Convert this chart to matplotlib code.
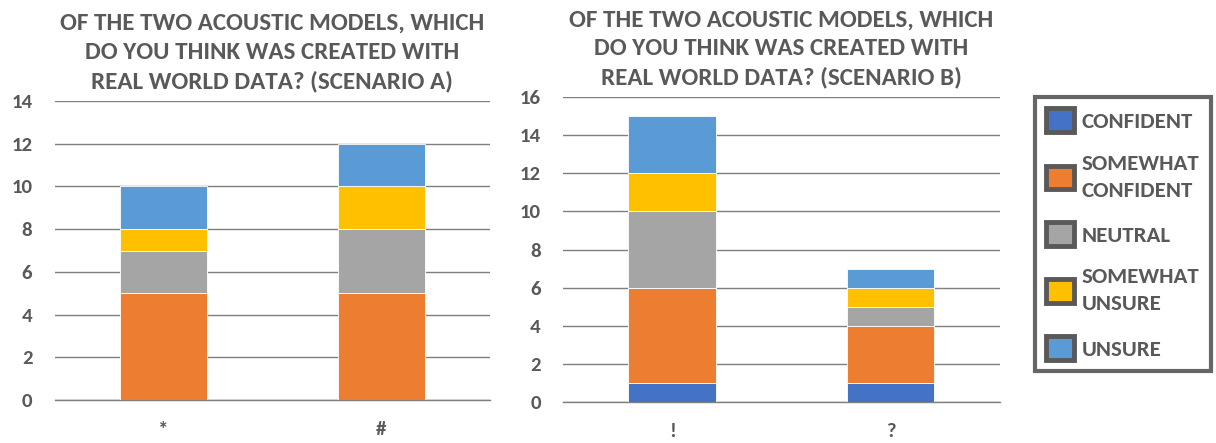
import numpy as np
import matplotlib.pyplot as plt
from matplotlib.patches import Patch

plt.rcParams['font.family'] = ['Carlito', 'DejaVu Sans']
plt.rcParams['font.weight'] = 'bold'

# response levels, bottom to top of each stack
levels = ['CONFIDENT', 'SOMEWHAT\nCONFIDENT', 'NEUTRAL', 'SOMEWHAT\nUNSURE', 'UNSURE']
colors = ['#4472C4', '#ED7D31', '#A5A5A5', '#FFC000', '#5B9BD5']

# scenario A
cats_a = ['*', '#']
counts_a = [
    [0, 0],  # confident
    [5, 5],  # somewhat confident
    [2, 3],  # neutral
    [1, 2],  # somewhat unsure
    [2, 2],  # unsure
]

# scenario B
cats_b = ['!', '?']
counts_b = [
    [1, 1],
    [5, 3],
    [4, 1],
    [2, 1],
    [3, 1],
]

title_a = 'OF THE TWO ACOUSTIC MODELS, WHICH\nDO YOU THINK WAS CREATED WITH\nREAL WORLD DATA? (SCENARIO A)'
title_b = 'OF THE TWO ACOUSTIC MODELS, WHICH\nDO YOU THINK WAS CREATED WITH\nREAL WORLD DATA? (SCENARIO B)'

txt = '#595959'

fig = plt.figure(figsize=(12.16, 4.43), dpi=100)
ax_a = fig.add_axes([0.045, 0.097, 0.358, 0.675])
ax_b = fig.add_axes([0.463, 0.0926, 0.359, 0.688])


def stacked(ax, cats, counts, ymax, title):
    x = np.arange(len(cats))
    bottom = np.zeros(len(cats))
    for vals, col in zip(counts, colors):
        vals = np.array(vals, dtype=float)
        ax.bar(x, vals, 0.4, bottom=bottom, color=col, edgecolor='white',
               linewidth=0.6, zorder=3)
        bottom += vals
    ax.set_xlim(-0.5, len(cats) - 0.5)
    ax.set_ylim(0, ymax)
    ax.set_yticks(np.arange(0, ymax + 1, 2))
    ax.set_xticks(x)
    ax.set_xticklabels(cats)
    ax.yaxis.grid(True, color='#7f7f7f', linewidth=1, zorder=0)
    for s in ['top', 'right', 'left']:
        ax.spines[s].set_visible(False)
    ax.spines['bottom'].set_color('#7f7f7f')
    ax.spines['bottom'].set_linewidth(1)
    ax.tick_params(axis='both', length=0, labelsize=15, labelcolor=txt)
    for lab in ax.get_xticklabels() + ax.get_yticklabels():
        lab.set_fontweight('bold')
    ax.tick_params(axis='y', pad=16)
    ax.tick_params(axis='x', pad=15)
    ax.set_title(title, fontsize=18, color=txt, fontweight='bold',
                 linespacing=1.45, pad=9)


stacked(ax_a, cats_a, counts_a, 14, title_a)
stacked(ax_b, cats_b, counts_b, 16, title_b)

handles = [Patch(facecolor=c, edgecolor='#595959', linewidth=3.5) for c in colors]
leg = fig.legend(handles, levels, loc='upper left', bbox_to_anchor=(0.851, 0.781),
                 frameon=True, fancybox=False, labelcolor=txt,
                 prop={'family': 'Carlito', 'weight': 'bold', 'size': 16.5},
                 handlelength=1.2, handleheight=1.2, labelspacing=0.94,
                 borderpad=0.5, borderaxespad=0, handletextpad=0.35)
for t in leg.get_texts():
    t.set_linespacing(1.45)
frame = leg.get_frame()
frame.set_edgecolor('#404040')
frame.set_linewidth(3)

fig.savefig('out.png', dpi=100)
